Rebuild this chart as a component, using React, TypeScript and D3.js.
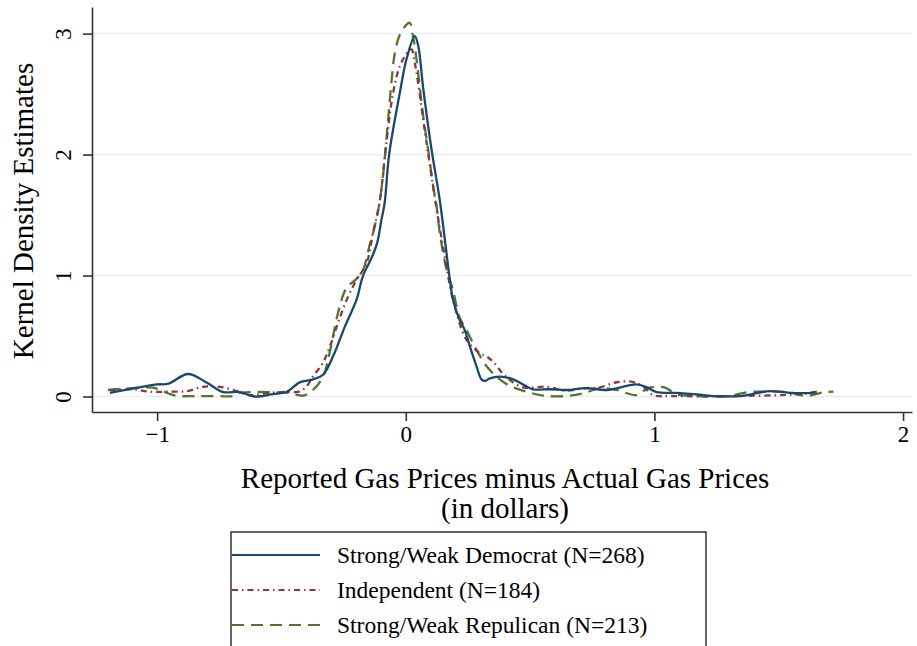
import React, { useEffect, useRef } from 'react';
import * as d3 from 'd3';

// Kernel density estimates
const demX = [-1.19, -1.07, -1.0, -0.954, -0.876, -0.8, -0.735, -0.668, -0.608, -0.534, -0.48, -0.427, -0.373, -0.333, -0.293, -0.245, -0.198, -0.172, -0.138, -0.115, -0.098, -0.085, -0.067, -0.024, 0.003, 0.036, 0.05, 0.07, 0.103, 0.137, 0.16, 0.175, 0.19, 0.215, 0.237, 0.26, 0.285, 0.305, 0.32, 0.338, 0.378, 0.432, 0.48, 0.512, 0.58, 0.647, 0.727, 0.808, 0.928, 0.97, 1.009, 1.09, 1.17, 1.237, 1.344, 1.465, 1.545, 1.646];
const demY = [0.03, 0.076, 0.1, 0.106, 0.186, 0.114, 0.037, 0.037, 0.0, 0.02, 0.037, 0.117, 0.142, 0.18, 0.33, 0.578, 0.8, 0.998, 1.144, 1.27, 1.46, 1.6, 2.0, 2.51, 2.79, 2.98, 2.9, 2.55, 2.05, 1.62, 1.25, 1.0, 0.8, 0.64, 0.55, 0.4, 0.247, 0.14, 0.13, 0.15, 0.164, 0.142, 0.09, 0.06, 0.06, 0.054, 0.07, 0.054, 0.1, 0.075, 0.037, 0.03, 0.018, 0.004, 0.004, 0.045, 0.03, 0.03];

const indX = [-1.19, -1.1, -1.03, -0.958, -0.88, -0.817, -0.749, -0.68, -0.632, -0.547, -0.479, -0.43, -0.4, -0.374, -0.334, -0.306, -0.266, -0.232, -0.198, -0.158, -0.132, -0.105, -0.078, -0.051, -0.024, 0.009, 0.023, 0.036, 0.05, 0.07, 0.09, 0.124, 0.157, 0.19, 0.244, 0.298, 0.325, 0.351, 0.39, 0.418, 0.472, 0.566, 0.647, 0.714, 0.78, 0.848, 0.908, 0.955, 0.995, 1.076, 1.3, 1.585, 1.666];
const indY = [0.05, 0.06, 0.04, 0.04, 0.045, 0.08, 0.08, 0.045, 0.012, 0.03, 0.04, 0.04, 0.08, 0.164, 0.277, 0.41, 0.647, 0.826, 0.964, 1.1, 1.35, 1.61, 2.1, 2.51, 2.73, 2.85, 2.87, 2.76, 2.59, 2.29, 2.01, 1.55, 1.157, 0.8, 0.47, 0.357, 0.33, 0.288, 0.19, 0.137, 0.076, 0.081, 0.048, 0.068, 0.076, 0.118, 0.123, 0.081, 0.012, 0.004, 0.004, 0.02, 0.045];

const repX = [-1.198, -1.11, -1.017, -0.983, -0.923, -0.85, -0.75, -0.695, -0.668, -0.6, -0.52, -0.467, -0.413, -0.373, -0.333, -0.313, -0.293, -0.266, -0.239, -0.198, -0.172, -0.145, -0.125, -0.105, -0.085, -0.071, -0.058, -0.044, -0.024, 0.003, 0.016, 0.029, 0.043, 0.056, 0.07, 0.09, 0.11, 0.124, 0.137, 0.164, 0.19, 0.215, 0.244, 0.285, 0.325, 0.365, 0.4, 0.432, 0.486, 0.553, 0.647, 0.714, 0.78, 0.848, 0.928, 0.975, 1.04, 1.09, 1.17, 1.3, 1.37, 1.48, 1.545, 1.61, 1.68, 1.72];
const repY = [0.054, 0.068, 0.073, 0.048, 0.007, 0.003, 0.003, 0.004, 0.03, 0.037, 0.035, 0.03, 0.007, 0.054, 0.164, 0.3, 0.495, 0.743, 0.896, 0.973, 1.047, 1.254, 1.406, 1.61, 1.958, 2.29, 2.59, 2.84, 2.99, 3.075, 3.09, 2.98, 2.79, 2.56, 2.32, 2.04, 1.74, 1.57, 1.35, 1.05, 0.88, 0.66, 0.55, 0.385, 0.25, 0.164, 0.11, 0.076, 0.04, 0.007, 0.004, 0.026, 0.068, 0.054, 0.012, 0.07, 0.076, 0.018, 0.004, 0.004, 0.035, 0.04, 0.035, 0.004, 0.035, 0.04];

const seriesLabels = ['Strong/Weak Democrat (N=268)', 'Independent (N=184)', 'Strong/Weak Repulican (N=213)'];
const xTicks = [-1, 0, 1, 2];
const yTicks = [0, 1, 2, 3];

function App() {
  const ref = useRef<SVGSVGElement | null>(null);

  useEffect(() => {
    document.body.style.margin = '0';
    const svg = d3.select(ref.current);
    svg.selectAll('*').remove();
    const font = "'Liberation Serif', 'Times New Roman', serif";

    const x = d3.scaleLinear().domain([-1.262, 2.036]).range([92, 912]);
    const y = d3.scaleLinear().domain([-0.128, 3.22]).range([412, 7]);

    // grid lines
    svg.append('g')
      .selectAll('line')
      .data(yTicks)
      .join('line')
      .attr('x1', 93).attr('x2', 912)
      .attr('y1', d => y(d)).attr('y2', d => y(d))
      .attr('stroke', '#e6eef1').attr('stroke-width', 1.5);

    const series = [
      { xs: demX, ys: demY, color: '#1a476f', dash: null },
      { xs: indX, ys: indY, color: '#90353b', dash: '6,4,1.5,4' },
      { xs: repX, ys: repY, color: '#55752f', dash: '12,7' },
    ];

    const line = d3.line<[number, number]>()
      .x(d => x(d[0]))
      .y(d => y(d[1]))
      .curve(d3.curveCatmullRom.alpha(0.5));

    // draw democrat last so it sits on top like the original
    [series[2], series[1], series[0]].forEach(s => {
      const pts = s.xs.map((v, i) => [v, s.ys[i]] as [number, number]);
      svg.append('path')
        .attr('d', line(pts))
        .attr('fill', 'none')
        .attr('stroke', s.color)
        .attr('stroke-width', 2.3)
        .attr('stroke-dasharray', s.dash);
    });

    // axes
    const xAxis = svg.append('g')
      .attr('transform', 'translate(0,412)')
      .call(d3.axisBottom(x).tickValues(xTicks).tickSize(9).tickPadding(5).tickSizeOuter(0).tickFormat(d3.format('d')));
    xAxis.selectAll('text').attr('font-size', 23).attr('font-family', font).attr('fill', '#000');

    const yAxis = svg.append('g')
      .attr('transform', 'translate(92,0)')
      .call(d3.axisLeft(y).tickValues(yTicks).tickSize(9).tickSizeOuter(0).tickFormat(d3.format('d')));
    yAxis.selectAll('text')
      .attr('x', null).attr('dy', null)
      .attr('transform', 'translate(-21,0) rotate(-90)')
      .attr('text-anchor', 'middle')
      .attr('font-size', 23).attr('font-family', font).attr('fill', '#000');

    [xAxis, yAxis].forEach(a => {
      a.selectAll('path, line').attr('stroke', '#333').attr('stroke-width', 1.6);
    });

    // titles
    svg.append('text')
      .attr('transform', 'translate(33,211) rotate(-90)')
      .attr('text-anchor', 'middle')
      .attr('font-family', font).attr('font-size', 29)
      .text('Kernel Density Estimates');

    const xt = svg.append('text')
      .attr('text-anchor', 'middle')
      .attr('font-family', font).attr('font-size', 29);
    xt.append('tspan').attr('x', 505).attr('y', 488).text('Reported Gas Prices minus Actual Gas Prices');
    xt.append('tspan').attr('x', 505).attr('y', 518).text('(in dollars)');

    // legend
    const lg = svg.append('g');
    lg.append('rect')
      .attr('x', 231).attr('y', 532).attr('width', 475).attr('height', 130)
      .attr('fill', '#fff').attr('stroke', '#000').attr('stroke-width', 1.2);
    const rowY = d3.scalePoint<number>().domain([0, 1, 2]).range([555, 625]);
    series.forEach((s, i) => {
      lg.append('line')
        .attr('x1', 232).attr('x2', 320)
        .attr('y1', rowY(i)!).attr('y2', rowY(i)!)
        .attr('stroke', s.color).attr('stroke-width', 2)
        .attr('stroke-dasharray', s.dash);
      lg.append('text')
        .attr('x', 337).attr('y', rowY(i)! + 8)
        .attr('font-family', font).attr('font-size', 23.5)
        .text(seriesLabels[i]);
    });
  }, []);

  return <svg ref={ref} width={917} height={646} style={{ display: 'block', background: '#fff' }} />;
}

export default App;
